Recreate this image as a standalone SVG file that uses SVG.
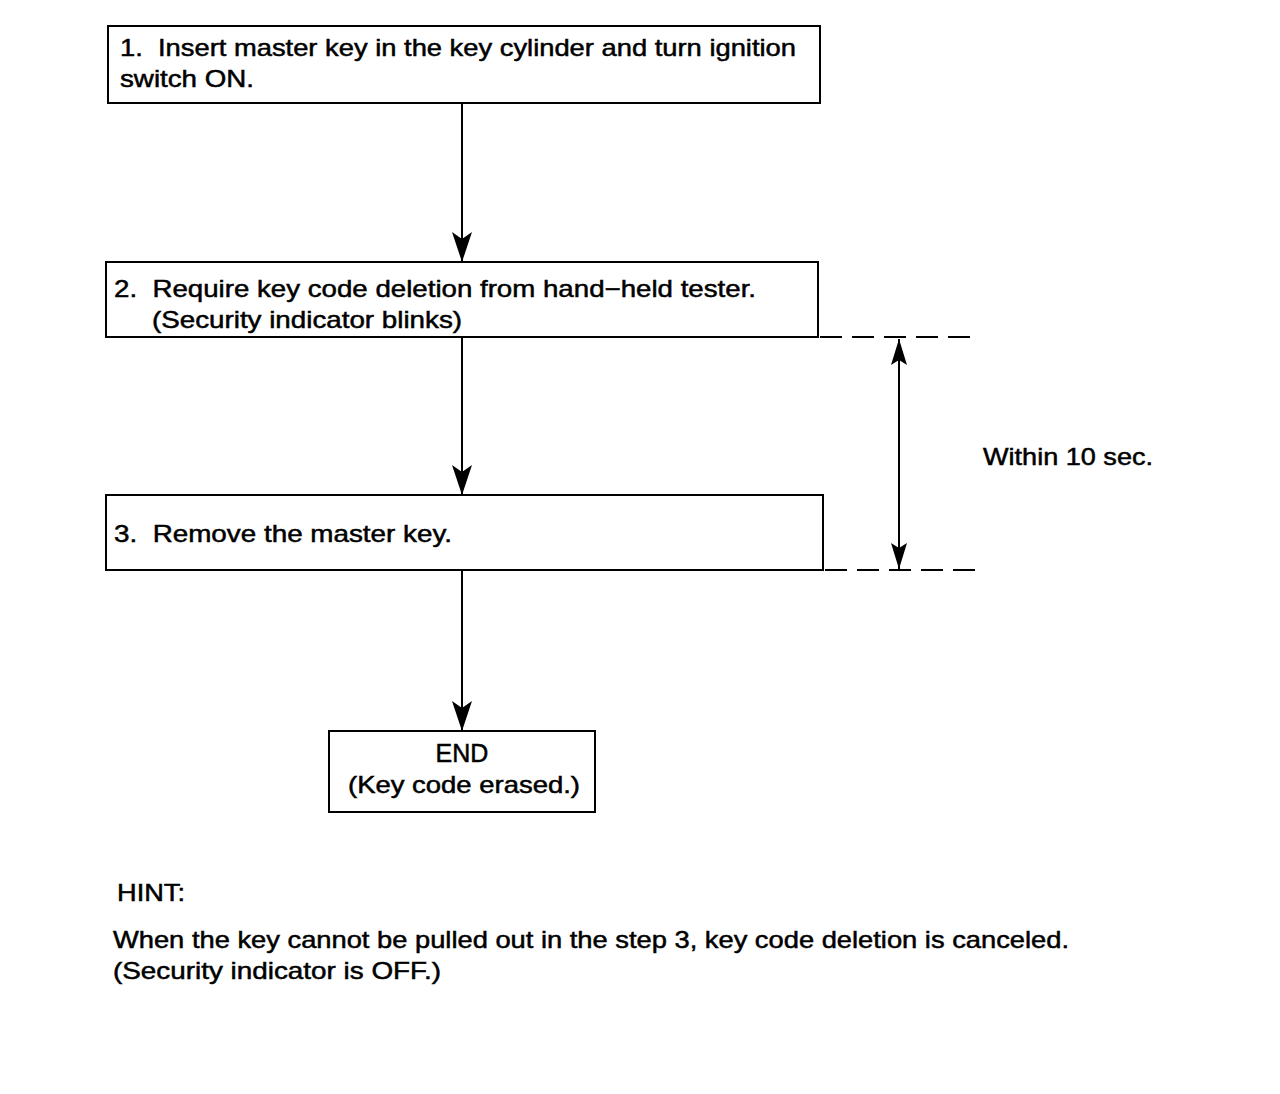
<svg xmlns="http://www.w3.org/2000/svg" width="1280" height="1094" viewBox="0 0 1280 1094">
<style>
.box{fill:#fff;stroke:#000;stroke-width:2}
.t{font-family:"Liberation Sans",Arial,sans-serif;font-size:24px;fill:#000;stroke:#000;stroke-width:0.5;white-space:pre}
.ln{stroke:#000;stroke-width:2;fill:none}
.dash{stroke:#000;stroke-width:2;stroke-dasharray:22 10;fill:none}
</style>
<defs>
<marker id="ah" markerUnits="userSpaceOnUse" markerWidth="34" markerHeight="24" refX="32" refY="12" orient="auto-start-reverse" viewBox="0 0 34 24">
<path d="M32,12 L2,2 L9,12 L2,22 Z" fill="#000"/>
</marker>
<marker id="ah2" markerUnits="userSpaceOnUse" markerWidth="30" markerHeight="20" refX="28" refY="10" orient="auto-start-reverse" viewBox="0 0 30 20">
<path d="M28,10 L2,2 L7,10 L2,18 Z" fill="#000"/>
</marker>
</defs>
<rect width="1280" height="1094" fill="#fff"/>
<g id="connectors">
<line class="ln" x1="462" y1="103" x2="462" y2="262" marker-end="url(#ah)"/>
<line class="ln" x1="462" y1="337" x2="462" y2="495" marker-end="url(#ah)"/>
<line class="ln" x1="462" y1="570" x2="462" y2="731" marker-end="url(#ah)"/>
<line class="dash" x1="820" y1="337" x2="975" y2="337"/>
<line class="dash" x1="825" y1="570" x2="980" y2="570"/>
<line class="ln" x1="899" y1="339" x2="899" y2="569" marker-start="url(#ah2)" marker-end="url(#ah2)"/>
</g>
<g id="node1">
<rect class="box" x="108" y="26" width="712" height="77"/>
<text class="t" x="120" y="56" textLength="676" lengthAdjust="spacingAndGlyphs" xml:space="preserve">1.  Insert master key in the key cylinder and turn ignition</text>
<text class="t" x="120" y="87" textLength="134" lengthAdjust="spacingAndGlyphs">switch ON.</text>
</g>
<g id="node2">
<rect class="box" x="106" y="262" width="712" height="75"/>
<text class="t" x="114" y="297" textLength="642" lengthAdjust="spacingAndGlyphs" xml:space="preserve">2.  Require key code deletion from hand−held tester.</text>
<text class="t" x="152" y="328" textLength="310" lengthAdjust="spacingAndGlyphs">(Security indicator blinks)</text>
</g>
<g id="node3">
<rect class="box" x="106" y="495" width="717" height="75"/>
<text class="t" x="114" y="542" textLength="338" lengthAdjust="spacingAndGlyphs" xml:space="preserve">3.  Remove the master key.</text>
</g>
<g id="node4">
<rect class="box" x="329" y="731" width="266" height="81"/>
<text class="t" x="462" y="762" text-anchor="middle" style="font-size:25px">END</text>
<text class="t" x="348" y="793" textLength="232" lengthAdjust="spacingAndGlyphs">(Key code erased.)</text>
</g>
<g id="label">
<text class="t" x="983" y="465" textLength="170" lengthAdjust="spacingAndGlyphs">Within 10 sec.</text>
</g>
<g id="hint">
<text class="t" x="117" y="901" textLength="68" lengthAdjust="spacingAndGlyphs">HINT:</text>
<text class="t" x="113" y="948" textLength="956" lengthAdjust="spacingAndGlyphs">When the key cannot be pulled out in the step 3, key code deletion is canceled.</text>
<text class="t" x="113" y="979" textLength="328" lengthAdjust="spacingAndGlyphs">(Security indicator is OFF.)</text>
</g>
</svg>
